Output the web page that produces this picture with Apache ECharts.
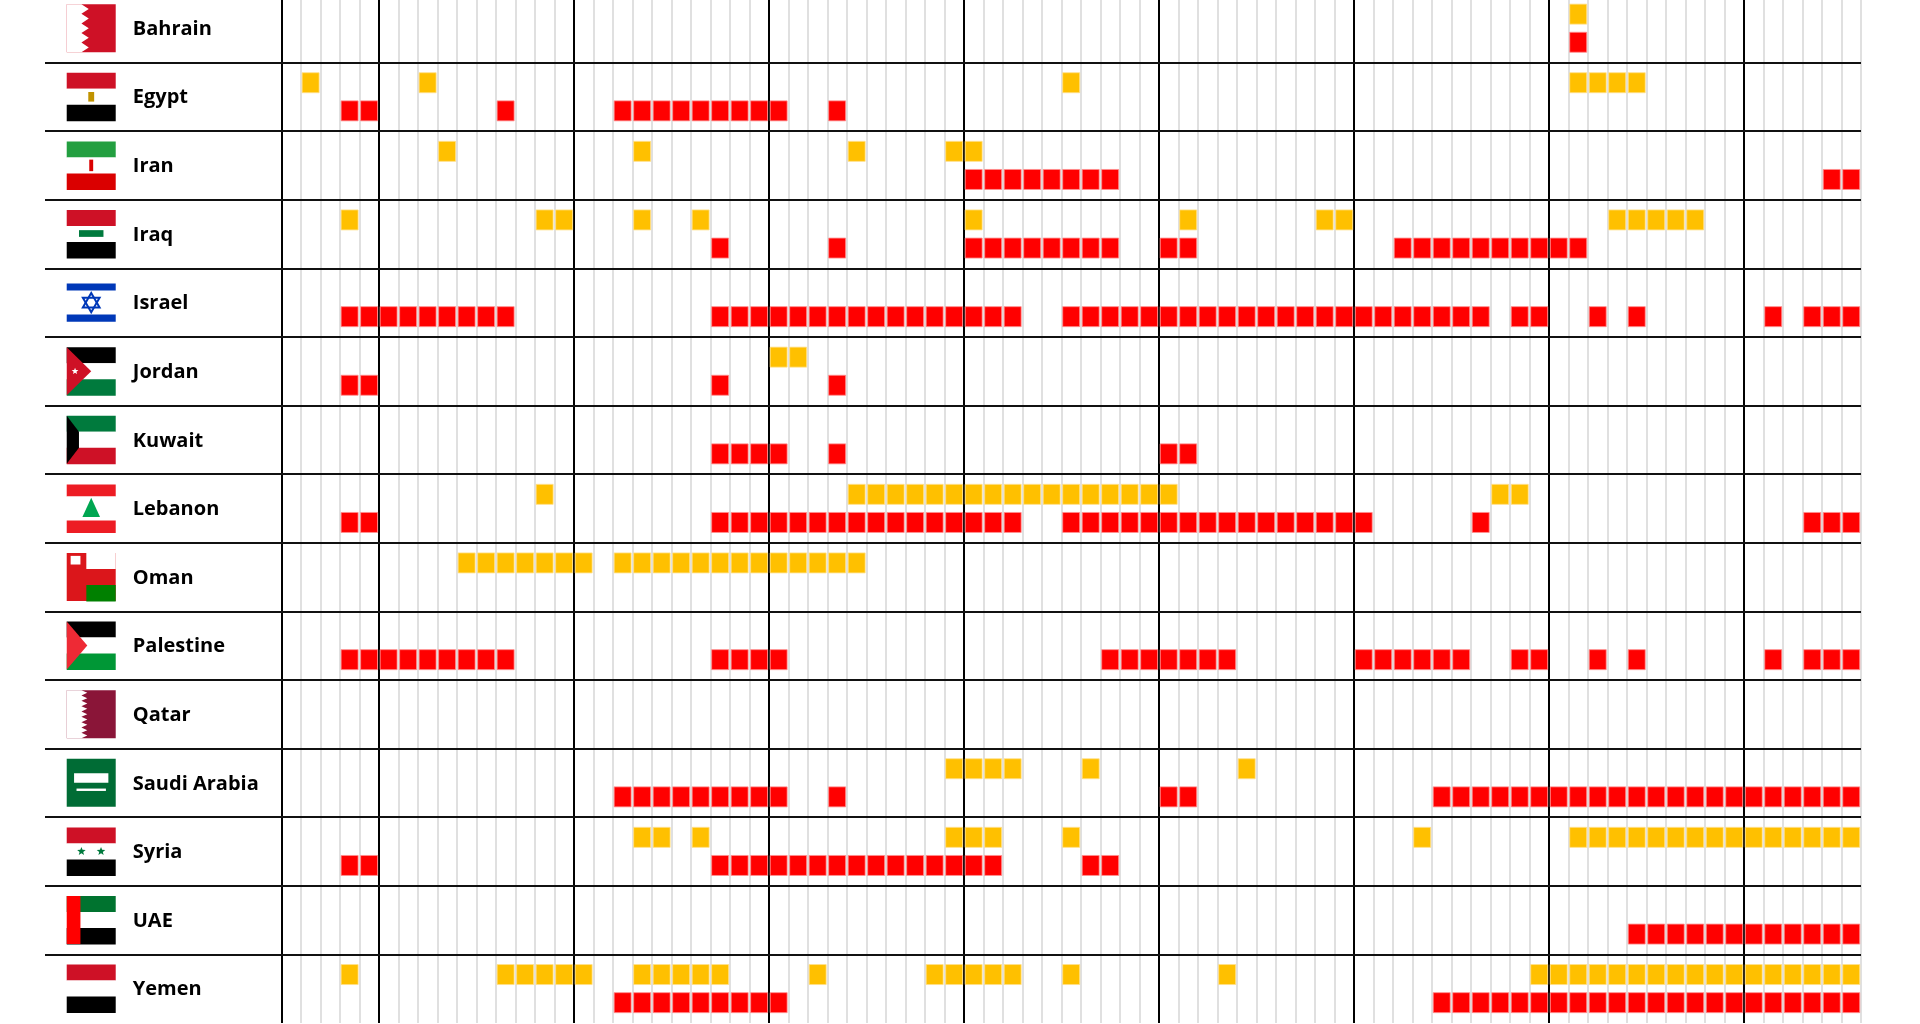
<!DOCTYPE html>
<html><head><meta charset="utf-8">
<script src="https://cdn.jsdelivr.net/npm/echarts@6/dist/echarts.min.js"></script>
<style>html,body{margin:0;padding:0;background:#fff}#c{width:1920px;height:1024px}</style>
</head><body><div id="c"></div>
<script>
const countries = ['Bahrain','Egypt','Iran','Iraq','Israel','Jordan','Kuwait','Lebanon','Oman','Palestine','Qatar','Saudi Arabia','Syria','UAE','Yemen'];
const flagCodes = ['bh','eg','ir','iq','il','jo','kw','lb','om','ps','qa','sa','sy','ae','ye'];
const numColumns = 81;
const majorColumns = [0,5,15,25,35,45,55,65,75];
function span(a,b){const r=[];for(let i=a;i<=b;i++)r.push(i);return r;}
// yellow (upper) and red (lower) marks, by column index
const yellowCols = [
  [66],
  [1,7,40,...span(66,69)],
  [8,18,29,34,35],
  [3,13,14,18,21,35,46,53,54,...span(68,72)],
  [],
  [25,26],
  [],
  [13,...span(29,45),62,63],
  [...span(9,15),...span(17,29)],
  [],
  [],
  [...span(34,37),41,49],
  [18,19,21,34,35,36,40,58,...span(66,80)],
  [],
  [3,...span(11,15),...span(18,22),27,...span(33,37),40,48,...span(64,80)]
];
const redCols = [
  [66],
  [3,4,11,...span(17,25),28],
  [...span(35,42),79,80],
  [22,28,...span(35,42),45,46,...span(57,66)],
  [...span(3,11),...span(22,37),...span(40,61),63,64,67,69,76,78,79,80],
  [3,4,22,28],
  [22,23,24,25,28,45,46],
  [3,4,...span(22,37),...span(40,55),61,78,79,80],
  [],
  [...span(3,11),22,23,24,25,...span(42,48),...span(55,60),63,64,67,69,76,78,79,80],
  [],
  [...span(17,25),28,45,46,...span(59,80)],
  [3,4,...span(22,36),41,42],
  [...span(69,80)],
  [...span(17,25),...span(59,80)]
];

const yMin = 0.089, yMax = 15.016, xMin = -12.12;
const yellowData=[], redData=[];
yellowCols.forEach((cols,r)=>cols.forEach(c=>yellowData.push([c+0.5,r+0.295])));
redCols.forEach((cols,r)=>cols.forEach(c=>redData.push([c+0.5,r+0.705])));

const lines=[];
for(let x=0;x<=numColumns;x++){
  const major=majorColumns.includes(x);
  lines.push([{coord:[x,yMin],lineStyle:{color:major?'#000':'#d9d9d9',width:major?2:1.6,type:'solid'}},{coord:[x,15]}]);
}
for(let y=1;y<=14;y++){
  lines.push([{coord:[xMin,y],lineStyle:{color:'#111',width:2.2,type:'solid'}},{coord:[numColumns,y]}]);
}

function star(cx,cy,R,r){const p=[];for(let i=0;i<10;i++){const a=-Math.PI/2+i*Math.PI/5;const rr=i%2?r:R;p.push([cx+rr*Math.cos(a),cy+rr*Math.sin(a)]);}return p;}
function flag(code,x,y,w,h){
  const e=[];
  const R=(a,b,c,d,f)=>e.push({type:'rect',shape:{x:x+a,y:y+b,width:c,height:d},style:{fill:f}});
  const P=(pts,f)=>e.push({type:'polygon',shape:{points:pts.map(p=>[x+p[0],y+p[1]])},style:{fill:f}});
  const tri=(c1,c2,c3)=>{R(0,0,w,h/3,c1);R(0,h/3,w,h/3,c2);R(0,2*h/3,w,h/3+0.5,c3);};
  switch(code){
    case 'bh':{R(0,0,w,h,'#CE1126');const pts=[[0,0],[w*0.3,0]];const n=5;for(let i=0;i<n;i++){pts.push([w*0.45,h*(i+0.5)/n]);pts.push([w*0.3,h*(i+1)/n]);}pts.push([0,h]);P(pts,'#fff');break;}
    case 'eg':tri('#CE1126','#fff','#000');R(w*0.44,h*0.4,w*0.12,h*0.2,'#C09300');break;
    case 'ir':tri('#239F40','#fff','#DA0000');R(w*0.46,h*0.38,w*0.08,h*0.24,'#DA0000');break;
    case 'iq':tri('#CE1126','#fff','#000');R(w*0.25,h*0.42,w*0.5,h*0.14,'#007A3D');break;
    case 'il':{R(0,0,w,h,'#fff');R(0,h*0.1,w,h*0.15,'#0038B8');R(0,h*0.75,w,h*0.15,'#0038B8');
      const cx=w/2,cy=h/2,s=h*0.2;
      e.push({type:'polygon',shape:{points:[[x+cx,y+cy-s],[x+cx+s*0.87,y+cy+s/2],[x+cx-s*0.87,y+cy+s/2]]},style:{fill:'none',stroke:'#0038B8',lineWidth:2}});
      e.push({type:'polygon',shape:{points:[[x+cx,y+cy+s],[x+cx+s*0.87,y+cy-s/2],[x+cx-s*0.87,y+cy-s/2]]},style:{fill:'none',stroke:'#0038B8',lineWidth:2}});break;}
    case 'jo':tri('#000','#fff','#007A3D');P([[0,0],[w*0.5,h/2],[0,h]],'#CE1126');P(star(w*0.17,h/2,3.5,1.5),'#fff');break;
    case 'kw':tri('#007A3D','#fff','#CE1126');P([[0,0],[w*0.25,h/3],[w*0.25,2*h/3],[0,h]],'#000');break;
    case 'lb':R(0,0,w,h*0.25,'#ED1C24');R(0,h*0.25,w,h*0.5,'#fff');R(0,h*0.75,w,h*0.25+0.5,'#ED1C24');
      P([[w/2,h*0.28],[w*0.68,h*0.68],[w*0.32,h*0.68]],'#00A651');break;
    case 'om':R(0,0,w,h,'#DB161B');R(w*0.4,0,w*0.6,h/3,'#fff');R(w*0.4,2*h/3,w*0.6,h/3+0.5,'#008000');R(w*0.08,h*0.06,w*0.2,h*0.18,'#fff');break;
    case 'ps':tri('#000','#fff','#009736');P([[0,0],[w*0.42,h/2],[0,h]],'#EE2A35');break;
    case 'qa':{R(0,0,w,h,'#8A1538');const pts=[[0,0],[w*0.3,0]];const n=9;for(let i=0;i<n;i++){pts.push([w*0.42,h*(i+0.5)/n]);pts.push([w*0.3,h*(i+1)/n]);}pts.push([0,h]);P(pts,'#fff');break;}
    case 'sa':R(0,0,w,h,'#006C35');R(w*0.15,h*0.3,w*0.7,h*0.2,'#fff');R(w*0.2,h*0.62,w*0.6,h*0.05,'#fff');break;
    case 'sy':tri('#CE1126','#fff','#000');P(star(w*0.3,h/2,4.5,1.9),'#007A3D');P(star(w*0.7,h/2,4.5,1.9),'#007A3D');break;
    case 'ae':R(0,0,w,h/3,'#00732F');R(0,h/3,w,h/3,'#fff');R(0,2*h/3,w,h/3+0.5,'#000');R(0,0,w*0.28,h,'#FF0000');break;
    case 'ye':tri('#CE1126','#fff','#000');break;
  }
  return e;
}

const chart=echarts.init(document.getElementById('c'));
chart.setOption({
  animation:false,
  grid:{left:45,right:59,top:0,bottom:0},
  xAxis:{type:'value',min:xMin,max:numColumns,show:false,splitLine:{show:false}},
  yAxis:{type:'value',min:yMin,max:yMax,inverse:true,show:false,splitLine:{show:false}},
  series:[
    {type:'scatter',data:[],z:1,silent:true,markLine:{silent:true,symbol:'none',label:{show:false},animation:false,data:lines}},
    {type:'scatter',data:yellowData,symbol:'rect',symbolSize:[17,20],z:5,silent:true,
      itemStyle:{color:'#FFC000',borderColor:'#FFE08A',borderWidth:0.8,opacity:1}},
    {type:'scatter',data:redData,symbol:'rect',symbolSize:[17,20],z:5,silent:true,
      itemStyle:{color:'#FF0000',borderColor:'#FF9090',borderWidth:0.8,opacity:1}},
    {type:'custom',z:6,silent:true,data:countries.map((c,i)=>[-9.75,i+0.5,i]),
      renderItem:(params,api)=>{
        const i=api.value(2);
        const p=api.coord([api.value(0),api.value(1)]);
        const pn=api.coord([-7.62,api.value(1)]);
        const w=49,h=48;
        const children=flag(flagCodes[i],p[0]-w/2,p[1]-h/2,w,h);
        children.push({type:'text',style:{text:countries[i],x:pn[0],y:pn[1]+1,fill:'#000',font:'bold 20px "Open Sans", sans-serif',verticalAlign:'middle',align:'left'}});
        return {type:'group',children};
      }}
  ]
});
</script></body></html>
